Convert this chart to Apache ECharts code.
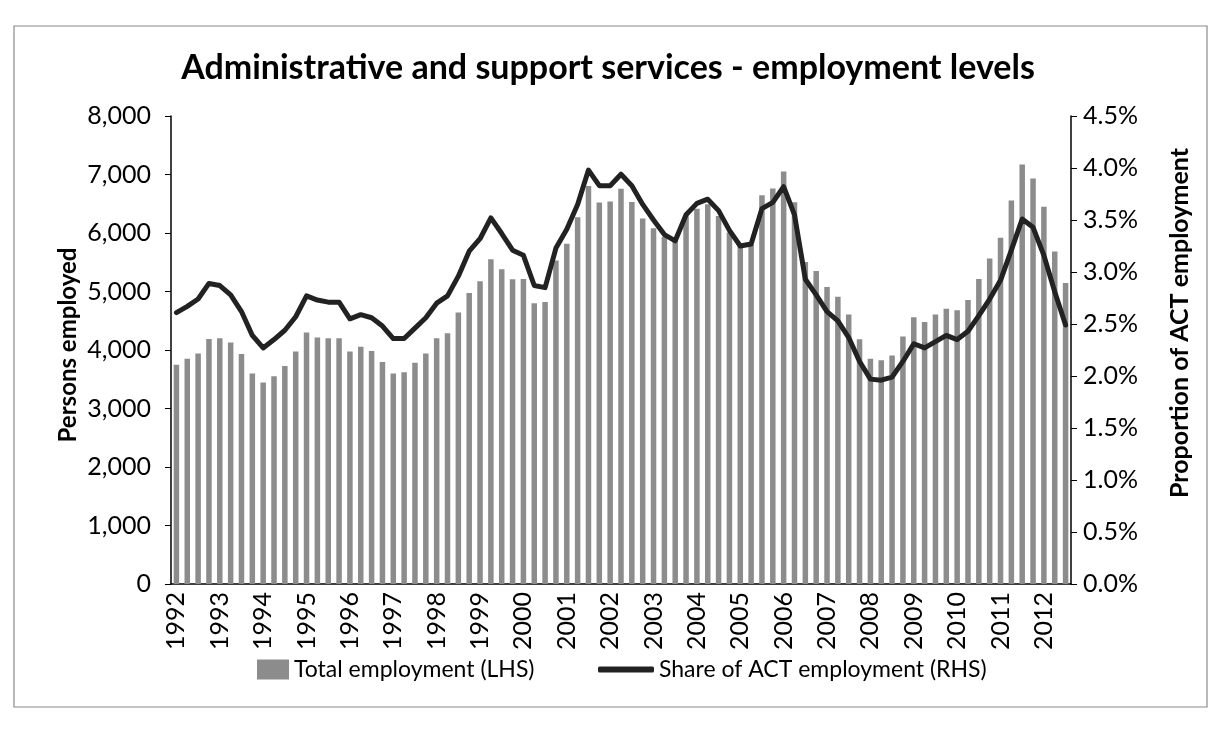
<!DOCTYPE html>
<html>
<head>
<meta charset="utf-8">
<script src="https://cdn.jsdelivr.net/npm/echarts@6/dist/echarts.min.js"></script>
<style>
  html, body { margin: 0; padding: 0; background: #fff; }
  #chart { width: 1216px; height: 736px; }
</style>
</head>
<body>
<div id="chart"></div>
<script>
// Quarterly periods, March 1992 to September 2012
const years = ['1992','1993','1994','1995','1996','1997','1998','1999','2000','2001','2002',
               '2003','2004','2005','2006','2007','2008','2009','2010','2011','2012'];
const quarterNames = ['Q1','Q2','Q3','Q4'];

// Total employment in administrative and support services (persons, LHS)
const totalEmployment = [
  3750, 3850, 3940, 4190,
  4200, 4130, 3930, 3600,
  3445, 3550, 3725, 3975,
  4300, 4215, 4200, 4200,
  3975, 4055, 3985, 3795,
  3600, 3620, 3780, 3940,
  4200, 4285, 4640, 4975,
  5175, 5550, 5380, 5210,
  5215, 4800, 4820, 5530,
  5815, 6270, 6805, 6520,
  6540, 6755, 6530, 6250,
  6080, 5930, 5855, 6295,
  6415, 6490, 6290, 6010,
  5815, 5800, 6645, 6760,
  7050, 6525, 5505, 5350,
  5075, 4910, 4605, 4185,
  3850, 3825, 3905, 4230,
  4560, 4480, 4605, 4705,
  4680, 4855, 5215, 5565,
  5920, 6555, 7170, 6930,
  6450, 5685, 5145
];

// Share of total ACT employment (per cent, RHS)
const actShare = [
  2.61, 2.67, 2.74, 2.89,
  2.87, 2.78, 2.62, 2.39,
  2.27, 2.35, 2.44, 2.57,
  2.77, 2.73, 2.71, 2.71,
  2.55, 2.59, 2.56, 2.48,
  2.36, 2.36, 2.46, 2.56,
  2.70, 2.77, 2.96, 3.20,
  3.32, 3.52, 3.37, 3.21,
  3.16, 2.87, 2.85, 3.23,
  3.41, 3.65, 3.98, 3.83,
  3.83, 3.94, 3.83, 3.65,
  3.50, 3.36, 3.30, 3.55,
  3.66, 3.70, 3.59, 3.40,
  3.25, 3.27, 3.61, 3.67,
  3.82, 3.55, 2.93, 2.78,
  2.62, 2.53, 2.37, 2.14,
  1.97, 1.96, 1.99, 2.14,
  2.31, 2.27, 2.33, 2.39,
  2.35, 2.43, 2.58, 2.74,
  2.92, 3.21, 3.51, 3.43,
  3.16, 2.81, 2.49
];

const categories = [];
years.forEach(y => quarterNames.forEach(q => categories.push(y + ' ' + q)));
categories.length = totalEmployment.length;

const FONT = 'Lato';
const LINE_COLOR = '#222222';
const BAR_COLOR = '#8c8c8c';
const chart = echarts.init(document.getElementById('chart'), null, { renderer: 'canvas' });

chart.setOption({
  backgroundColor: '#ffffff',
  animation: false,
  title: {
    text: 'Administrative and support services - employment levels',
    left: 'center',
    top: 46,
    textStyle: { fontFamily: FONT, fontSize: 34, fontWeight: 'bold', color: '#000' }
  },
  graphic: [{
    type: 'rect',
    shape: { x: 14, y: 26, width: 1193, height: 681 },
    style: { fill: 'none', stroke: '#8a8a8a', lineWidth: 1.2 },
    silent: true
  }, {
    // left axis title
    type: 'text',
    x: 68, y: 345,
    rotation: Math.PI / 2,
    style: {
      text: 'Persons employed',
      fontFamily: FONT, fontSize: 24, fontWeight: 'bold', fill: '#000',
      align: 'center', verticalAlign: 'middle'
    },
    silent: true
  }, {
    // right axis title
    type: 'text',
    x: 1180, y: 323,
    rotation: Math.PI / 2,
    style: {
      text: 'Proportion of ACT employment',
      fontFamily: FONT, fontSize: 25, fontWeight: 'bold', fill: '#000',
      align: 'center', verticalAlign: 'middle'
    },
    silent: true
  }],
  legend: [{
    data: [{ name: 'Total employment (LHS)', icon: 'rect' }],
    left: 252, top: 653,
    itemWidth: 32, itemHeight: 20,
    textStyle: { fontFamily: FONT, fontSize: 23, color: '#000' }
  }, {
    data: [{ name: 'Share of ACT employment (RHS)', icon: 'roundRect' }],
    left: 593, top: 653,
    itemWidth: 56, itemHeight: 6,
    textStyle: { fontFamily: FONT, fontSize: 23, color: '#000' }
  }],
  grid: { left: 171, top: 116, width: 900, height: 468 },
  xAxis: {
    type: 'category',
    data: categories,
    boundaryGap: true,
    axisLine: { lineStyle: { color: '#000', width: 1.5 } },
    axisTick: { interval: 3, length: 7, lineStyle: { color: '#000', width: 1.2 } },
    axisLabel: {
      interval: 3, rotate: 90, margin: 8,
      fontFamily: FONT, fontSize: 25, color: '#000',
      formatter: v => v.slice(0, 4)
    }
  },
  yAxis: [{
    type: 'value',
    min: 0, max: 8000, interval: 1000,
    axisLine: { show: true, lineStyle: { color: '#000', width: 1.5 } },
    axisTick: { show: true, length: 6, lineStyle: { color: '#000' } },
    splitLine: { show: false },
    axisLabel: {
      margin: 20, fontFamily: FONT, fontSize: 25, color: '#000',
      formatter: v => v.toLocaleString('en-US')
    }
  }, {
    type: 'value',
    min: 0, max: 4.5, interval: 0.5,
    position: 'right',
    axisLine: { show: true, lineStyle: { color: '#000', width: 1.5 } },
    axisTick: { show: true, length: 6, lineStyle: { color: '#000' } },
    splitLine: { show: false },
    axisLabel: {
      margin: 12, fontFamily: FONT, fontSize: 25, color: '#000',
      formatter: v => v.toFixed(1) + '%'
    }
  }],
  series: [{
    name: 'Total employment (LHS)',
    type: 'bar',
    yAxisIndex: 0,
    data: totalEmployment,
    barWidth: 5.5,
    itemStyle: { color: BAR_COLOR }
  }, {
    name: 'Share of ACT employment (RHS)',
    type: 'line',
    yAxisIndex: 1,
    data: actShare,
    symbol: 'none',
    lineStyle: { color: LINE_COLOR, width: 5, cap: 'round', join: 'round' },
    itemStyle: { color: LINE_COLOR }
  }]
});
</script>
</body>
</html>
